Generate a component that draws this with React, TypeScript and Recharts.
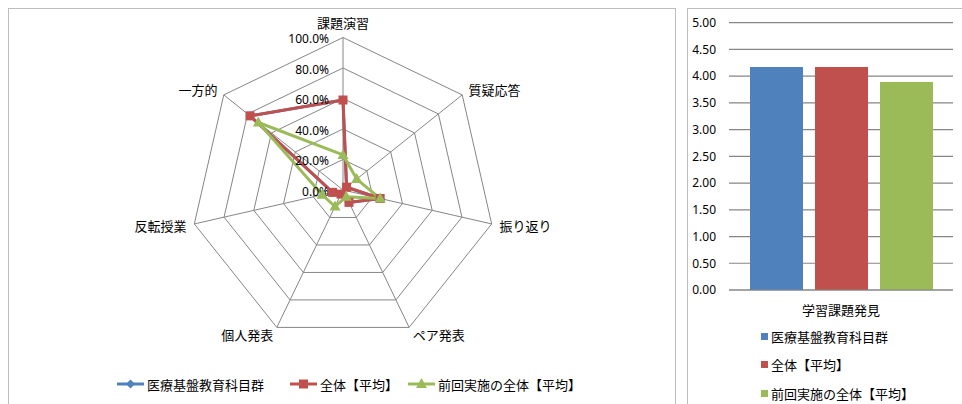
import React from 'react';
import {
  RadarChart,
  Radar,
  PolarGrid,
  PolarAngleAxis,
  PolarRadiusAxis,
  BarChart,
  Bar,
  XAxis,
  YAxis,
  CartesianGrid
} from 'recharts';

// radar: share of each teaching style
const radarAxes = ['課題演習', '質疑応答', '振り返り', 'ペア発表', '個人発表', '反転授業', '一方的'];
const medicalShares = [0.59, 0.03, 0.25, 0.09, 0.03, 0.07, 0.78];
const overallShares = [0.59, 0.03, 0.25, 0.09, 0.03, 0.07, 0.78];
const previousShares = [0.23, 0.115, 0.25, 0.05, 0.12, 0.14, 0.71];
const radiusTicks = [0, 0.2, 0.4, 0.6, 0.8, 1];

// bar: mean score
const barCategory = '学習課題発見';
const barValues = [4.17, 4.17, 3.89];
const barTicks = [0, 0.5, 1, 1.5, 2, 2.5, 3, 3.5, 4, 4.5, 5];

const seriesNames = ['医療基盤教育科目群', '全体【平均】', '前回実施の全体【平均】'];
const seriesColors = ['#4F81BD', '#C0504D', '#9BBB59'];

const font = "'Noto Sans', 'Noto Sans CJK JP', sans-serif";
const gridColor = '#868686';
const CY = 190;

const radarData = radarAxes.map((axis, i) => ({
  axis,
  s0: medicalShares[i],
  s1: overallShares[i],
  s2: previousShares[i]
}));

const barData = [{ name: barCategory, s0: barValues[0], s1: barValues[1], s2: barValues[2] }];

const Diamond = ({ cx, cy, fill }: any) => (
  <path d={`M${cx},${cy - 4.5}L${cx + 4.5},${cy}L${cx},${cy + 4.5}L${cx - 4.5},${cy}Z`} fill={fill} />
);
const Square = ({ cx, cy, fill }: any) => (
  <rect x={cx - 4.5} y={cy - 4.5} width={9} height={9} fill={fill} />
);
const Triangle = ({ cx, cy, fill }: any) => (
  <path d={`M${cx},${cy - 6}L${cx + 5.5},${cy + 4}L${cx - 5.5},${cy + 4}Z`} fill={fill} />
);
const markers = [Diamond, Square, Triangle];

const AngleTick = (props: any) => {
  const { x, y, textAnchor, payload } = props;
  let dy = 0;
  if (textAnchor === 'middle') dy = y < CY ? -7 : 7;
  return (
    <text x={x} y={y + dy} textAnchor={textAnchor} dominantBaseline="central" fontSize={13} fontFamily={font} fill="#000">
      {payload.value}
    </text>
  );
};

const RadiusTick = (props: any) => {
  const { x, y, payload } = props;
  return (
    <text x={x - 14} y={y + 1} textAnchor="end" dominantBaseline="central" fontSize={12} fontFamily={font} fill="#000">
      {(payload.value * 100).toFixed(1) + '%'}
    </text>
  );
};

const CategoryTick = (props: any) => {
  const { x, y, payload } = props;
  return (
    <text x={x} y={y + 12} textAnchor="middle" dominantBaseline="central" fontSize={13} fontFamily={font} fill="#000">
      {payload.value}
    </text>
  );
};

const radarLegendX = [117, 290, 408];

export default function App() {
  return (
    <div style={{ position: 'fixed', left: 0, top: 0, width: 962, height: 404, overflow: 'hidden', background: '#fff', fontFamily: font }}>
      <div style={{ position: 'absolute', left: 8, top: 8, width: 668, height: 420, border: '1px solid #bdbdbd', boxSizing: 'border-box' }} />
      <div style={{ position: 'absolute', left: 687, top: 8, width: 300, height: 420, border: '1px solid #bdbdbd', boxSizing: 'border-box' }} />

      <div style={{ position: 'absolute', left: 0, top: 0 }}>
        <RadarChart
          width={680}
          height={404}
          data={radarData}
          cx={343}
          cy={CY}
          outerRadius={152.5}
          margin={{ top: 0, right: 0, bottom: 0, left: 0 }}
        >
          <PolarGrid stroke={gridColor} strokeWidth={1} />
          <PolarAngleAxis dataKey="axis" tick={AngleTick} tickLine={false} axisLine={false} />
          <PolarRadiusAxis
            angle={90}
            type="number"
            domain={[0, 1]}
            ticks={radiusTicks as any}
            tickCount={6}
            tick={RadiusTick}
            axisLine={false}
            tickLine={false}
          />
          {['s0', 's1', 's2'].map((key, i) => {
            const Marker = markers[i];
            return (
              <Radar
                key={key}
                name={seriesNames[i]}
                dataKey={key}
                stroke={seriesColors[i]}
                strokeWidth={3}
                fill="none"
                fillOpacity={0}
                isAnimationActive={false}
                dot={(p: any) => <Marker key={`${key}-${p.index}`} cx={p.cx} cy={p.cy} fill={seriesColors[i]} />}
              />
            );
          })}
        </RadarChart>
      </div>

      {seriesNames.map((name, i) => {
        const Marker = markers[i];
        return (
          <div
            key={name}
            style={{ position: 'absolute', left: radarLegendX[i], top: 376, height: 16, display: 'flex', alignItems: 'center', fontSize: 13, whiteSpace: 'nowrap' }}
          >
            <svg width={27} height={14} style={{ marginRight: 3 }}>
              <line x1={0} y1={7} x2={27} y2={7} stroke={seriesColors[i]} strokeWidth={3} />
              <Marker cx={13.5} cy={7} fill={seriesColors[i]} />
            </svg>
            <span>{name}</span>
          </div>
        );
      })}

      <div style={{ position: 'absolute', left: 688, top: 8 }}>
        <BarChart
          width={274}
          height={396}
          data={barData}
          margin={{ top: 14.7, right: 9, bottom: 84, left: 0 }}
          barSize={53}
          barGap={12}
        >
          <CartesianGrid vertical={false} stroke={gridColor} strokeWidth={1.2} />
          <XAxis dataKey="name" height={30} tick={CategoryTick} tickLine={false} axisLine={{ stroke: gridColor, strokeWidth: 1.2 }} />
          <YAxis
            width={41}
            type="number"
            domain={[0, 5]}
            ticks={barTicks}
            interval={0}
            tickFormatter={(v: number) => v.toFixed(2)}
            axisLine={false}
            tickLine={false}
            tickMargin={7}
            tick={{ fontSize: 12, fontFamily: font, fill: '#000' }}
          />
          {['s0', 's1', 's2'].map((key, i) => (
            <Bar key={key} name={seriesNames[i]} dataKey={key} fill={seriesColors[i]} isAnimationActive={false} />
          ))}
        </BarChart>
      </div>

      {seriesNames.map((name, i) => (
        <div
          key={name + '-bar'}
          style={{ position: 'absolute', left: 761, top: 328 + i * 28.5, height: 16, display: 'flex', alignItems: 'center', fontSize: 13, whiteSpace: 'nowrap' }}
        >
          <span style={{ display: 'inline-block', width: 7, height: 7, background: seriesColors[i], marginRight: 3 }} />
          <span>{name}</span>
        </div>
      ))}
    </div>
  );
}
